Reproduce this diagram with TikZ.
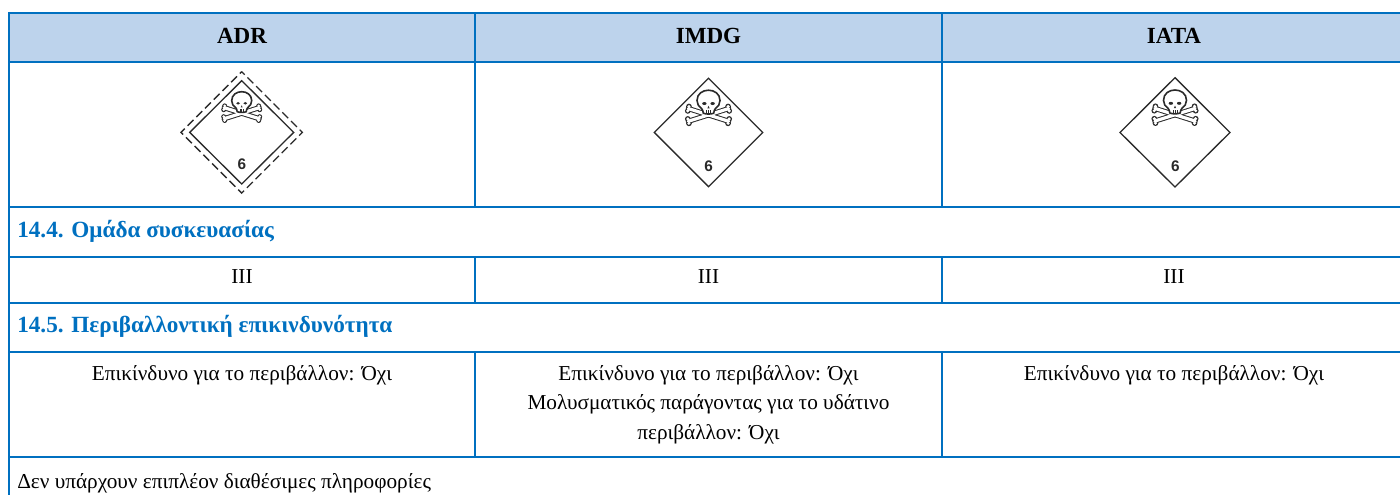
\documentclass[tikz,border=0pt]{standalone}
\usepackage{fontspec}
\setmainfont{Liberation Serif}
\newfontfamily\labelsans{Liberation Sans}
\definecolor{rule}{HTML}{0070C0}
\definecolor{headfill}{HTML}{BDD3EC}
\definecolor{ink}{HTML}{2A2A2A}
\tikzset{
  tblline/.style={draw=rule,line width=1.5pt},
  head/.style={anchor=base,inner sep=0pt,font=\fontsize{17.3}{20}\selectfont\bfseries,text=black},
  sect/.style={anchor=base west,inner sep=0pt,font=\fontsize{17.4}{20}\selectfont\bfseries,text=rule},
  cell/.style={anchor=base,inner sep=0pt,font=\fontsize{15.95}{18}\selectfont,text=black},
  plain/.style={anchor=base west,inner sep=0pt,font=\fontsize{15.95}{18}\selectfont,text=black},
  six/.style={inner sep=0pt,font=\labelsans\fontsize{11.5}{13}\selectfont\bfseries,text=ink},
  placard/.style={draw=ink,line width=1pt,line join=miter},
}
% skull and crossbones in pixel coordinates, y grows downward
\newcommand{\skullat}[3]{%
\begin{scope}[shift={(#1,#2)},scale=#3]
  \foreach \col/\wa/\rr in {ink/5.2/2.5,white/3.2/1.5}{
    \draw[\col,line width=\wa*0.75pt,line cap=round] (-17.5,6) -- (17.5,17);
    \draw[\col,line width=\wa*0.75pt,line cap=round] (-17.5,17) -- (17.5,6);
    \foreach \px/\py in {-18/8,-17/4.2,18/15,17/18.8,-18/15,-17/18.8,18/8,17/4.2}{
      \fill[\col] (\px,\py) circle[radius=\rr];
    }
  }
  \draw[ink,line width=1.2pt,fill=white]
    (-4.5,10)
    .. controls (-5,8) and (-5,6.8) .. (-6,6)
    .. controls (-8.5,4.2) and (-10,2) .. (-10,-1)
    .. controls (-10,-13) and (10,-13) .. (10,-1)
    .. controls (10,2) and (8.5,4.2) .. (6,6)
    .. controls (5,6.8) and (5,8) .. (4.5,10)
    .. controls (2,11) and (-2,11) .. (-4.5,10) -- cycle;
  \fill[ink] (-3.6,1.6) ellipse[x radius=1.9,y radius=1.3];
  \fill[ink] (3.6,1.6) ellipse[x radius=1.9,y radius=1.3];
  \fill[ink] (0,3.6) -- (1,5.8) -- (-1,5.8) -- cycle;
  \draw[ink,line width=0.4pt] (-1.7,7.6) -- (-1.7,10) (0,7.6) -- (0,10.4) (1.7,7.6) -- (1.7,10);
\end{scope}}
\begin{document}
\begin{tikzpicture}[x=0.75pt,y=-0.75pt]
\useasboundingbox (0,0) rectangle (1400,495);
% header band
\fill[headfill] (9,13) rectangle (1400,62.5);
% table rules
\foreach \yy in {13,62.5,206.7,256.7,302.7,352,456.7}{
  \draw[tblline] (8,\yy) -- (1400,\yy);
}
\draw[tblline] (9,12) -- (9,495);
\draw[tblline] (475,13) -- (475,206.7);
\draw[tblline] (942,13) -- (942,206.7);
\draw[tblline] (475,256.7) -- (475,302.7);
\draw[tblline] (942,256.7) -- (942,302.7);
\draw[tblline] (475,352) -- (475,456.7);
\draw[tblline] (942,352) -- (942,456.7);
% headers
\node[head] (hA) at (242,43.3) {ADR};
\node[head] (hB) at (708.5,43.3) {IMDG};
\node[head] (hC) at (1174,43.3) {IATA};
% placards
\draw[placard] (241.7,80.7) -- (293.7,132.4) -- (241.7,184) -- (189.7,132.4) -- cycle;
\draw[placard,dash pattern=on 6.24pt off 3pt,dash phase=3.12pt] (241.7,71.7) -- (302.4,132.4) -- (241.7,193.1) -- (181,132.4) -- cycle;
\skullat{241.7}{101.7}{1}
\node[six] (s1) at (242,164) {6};
\draw[placard] (708.5,78.3) -- (762.7,132.5) -- (708.5,186.7) -- (654.3,132.5) -- cycle;
\skullat{708.5}{101.7}{1.15}
\node[six] (s2) at (708.7,166) {6};
\draw[placard] (1175,77.7) -- (1230,132.5) -- (1175,187) -- (1120,132.5) -- cycle;
\skullat{1175}{101.5}{1.15}
\node[six] (s3) at (1175.5,166) {6};
% sections
\node[sect] (t1) at (17,237.7) {14.4. Ομάδα συσκευασίας};
\node[cell] (c1) at (242,284) {III};
\node[cell] (c2) at (708.5,284) {III};
\node[cell] (c3) at (1174,284) {III};
\node[sect] (t2) at (17,332.3) {14.5. Περιβαλλοντική επικινδυνότητα};
\node[cell] (d1) at (242,380) {Επικίνδυνο για το περιβάλλον: Όχι};
\node[cell] (d2) at (708.5,380) {Επικίνδυνο για το περιβάλλον: Όχι};
\node[cell] (d3) at (708.5,409.5) {Μολυσματικός παράγοντας για το υδάτινο};
\node[cell] (d4) at (708.5,439) {περιβάλλον: Όχι};
\node[cell] (d5) at (1174,380) {Επικίνδυνο για το περιβάλλον: Όχι};
\node[plain] (e1) at (17,488) {Δεν υπάρχουν επιπλέον διαθέσιμες πληροφορίες};
\end{tikzpicture}
\end{document}
